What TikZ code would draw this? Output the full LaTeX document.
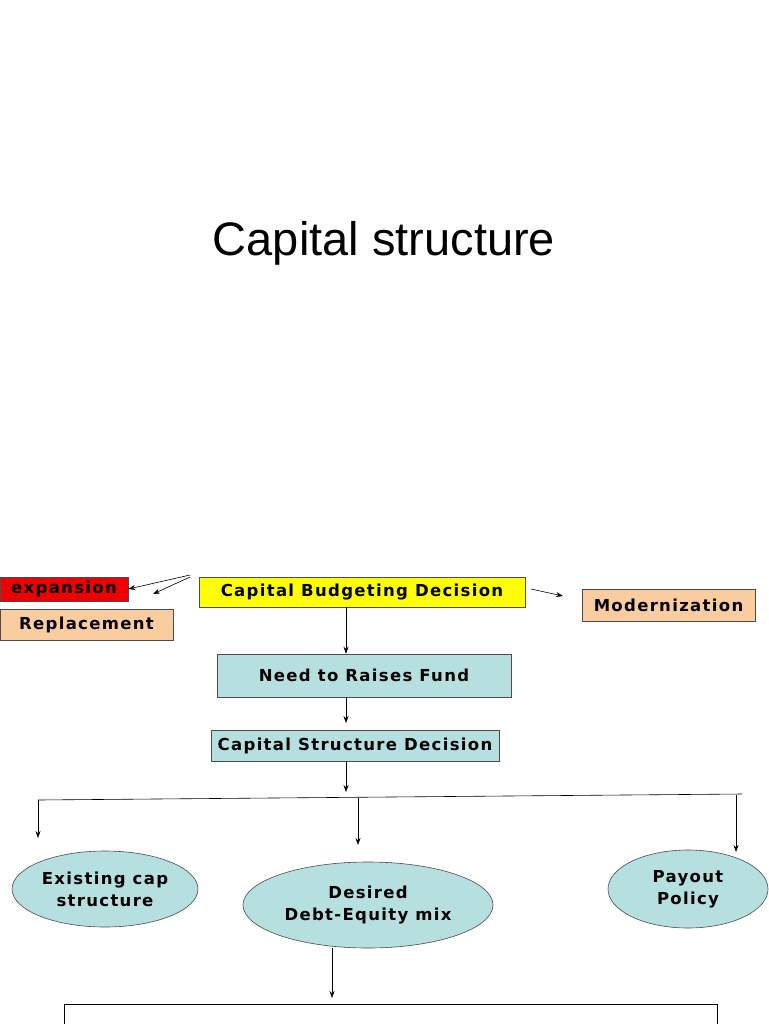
\documentclass[tikz,border=0pt]{standalone}
\usepackage{fontspec}
\setmainfont{DejaVu Sans}[LetterSpace=8]
\newfontfamily\titlefont{Liberation Sans}
\usetikzlibrary{shapes.geometric,arrows.meta}
\begin{document}
\begin{tikzpicture}[x=1pt,y=-1pt,
  box/.style={draw=black!70,line width=0.6pt,inner sep=0pt,font=\bfseries\fontsize{16.5}{19}\selectfont},
  ell/.style={ellipse,draw=black!70,line width=0.6pt,inner sep=0pt,align=center,font=\bfseries\fontsize{16.5}{22}\selectfont},
  arr/.style={-{Stealth[length=7pt,width=5pt]},line width=0.6pt},
  ln/.style={line width=0.6pt}]
\definecolor{lblue}{RGB}{182,223,224}
\definecolor{peach}{RGB}{250,205,160}
\definecolor{yel}{RGB}{255,255,0}
\definecolor{red1}{RGB}{240,0,0}
\useasboundingbox (0,0) rectangle (768,1024);
\node[font=\titlefont\fontsize{47}{54}\selectfont] (title) at (384,243) {Capital structure};
\node[box,fill=red1,minimum width=128,minimum height=24] (exp) at (64,589) {expansion};
\node[box,fill=peach,minimum width=173,minimum height=31] (rep) at (86.5,624.5) {Replacement};
\node[box,fill=yel,minimum width=326,minimum height=30] (cbd) at (362,592) {Capital Budgeting Decision};
\node[box,fill=peach,minimum width=173,minimum height=32] (mod) at (668.5,605) {Modernization};
\node[box,fill=lblue,minimum width=294,minimum height=43] (need) at (364,675.5) {Need to Raises Fund};
\node[box,fill=lblue,minimum width=288,minimum height=31] (csd) at (355,745.5) {Capital Structure Decision};
\node[ell,fill=lblue,minimum width=186,minimum height=76] (ex) at (105,889) {Existing cap\\structure};
\node[ell,fill=lblue,minimum width=250,minimum height=86] (des) at (368,905) {Desired\\Debt-Equity mix};
\node[ell,fill=lblue,minimum width=160,minimum height=78] (pay) at (688,889) {Payout\\Policy};
\coordinate (s1) at (190,575);
\coordinate (s2) at (190,577);
\coordinate (e2) at (153,594);
\coordinate (m1) at (531,589);
\coordinate (m2) at (563,596);
\draw[arr] (s1) -- (exp.east);
\draw[arr] (s2) -- (e2);
\draw[arr] (m1) -- (m2);
\draw[arr] (cbd.south -| 346,0) -- (need.north -| 346,0);
\draw[arr] (need.south -| 346,0) -- (346,723);
\draw[arr] (csd.south -| 346,0) -- (346,792);
\coordinate (hl) at (38,800);
\coordinate (hr) at (742,794);
\draw[ln] (hl) -- (hr);
\draw[arr] (hl) -- (38,838);
\draw[arr] (358,798) -- (358,845);
\draw[arr] (736,794.5) -- (736,852);
\draw[arr] (des.south -| 332,0) -- (332,998);
\coordinate (bl) at (64,1004);
\coordinate (br) at (717,1004);
\draw[ln] (bl) -- (br);
\draw[ln] (bl) -- (64,1024);
\draw[ln] (br) -- (717,1024);
\end{tikzpicture}
\end{document}
